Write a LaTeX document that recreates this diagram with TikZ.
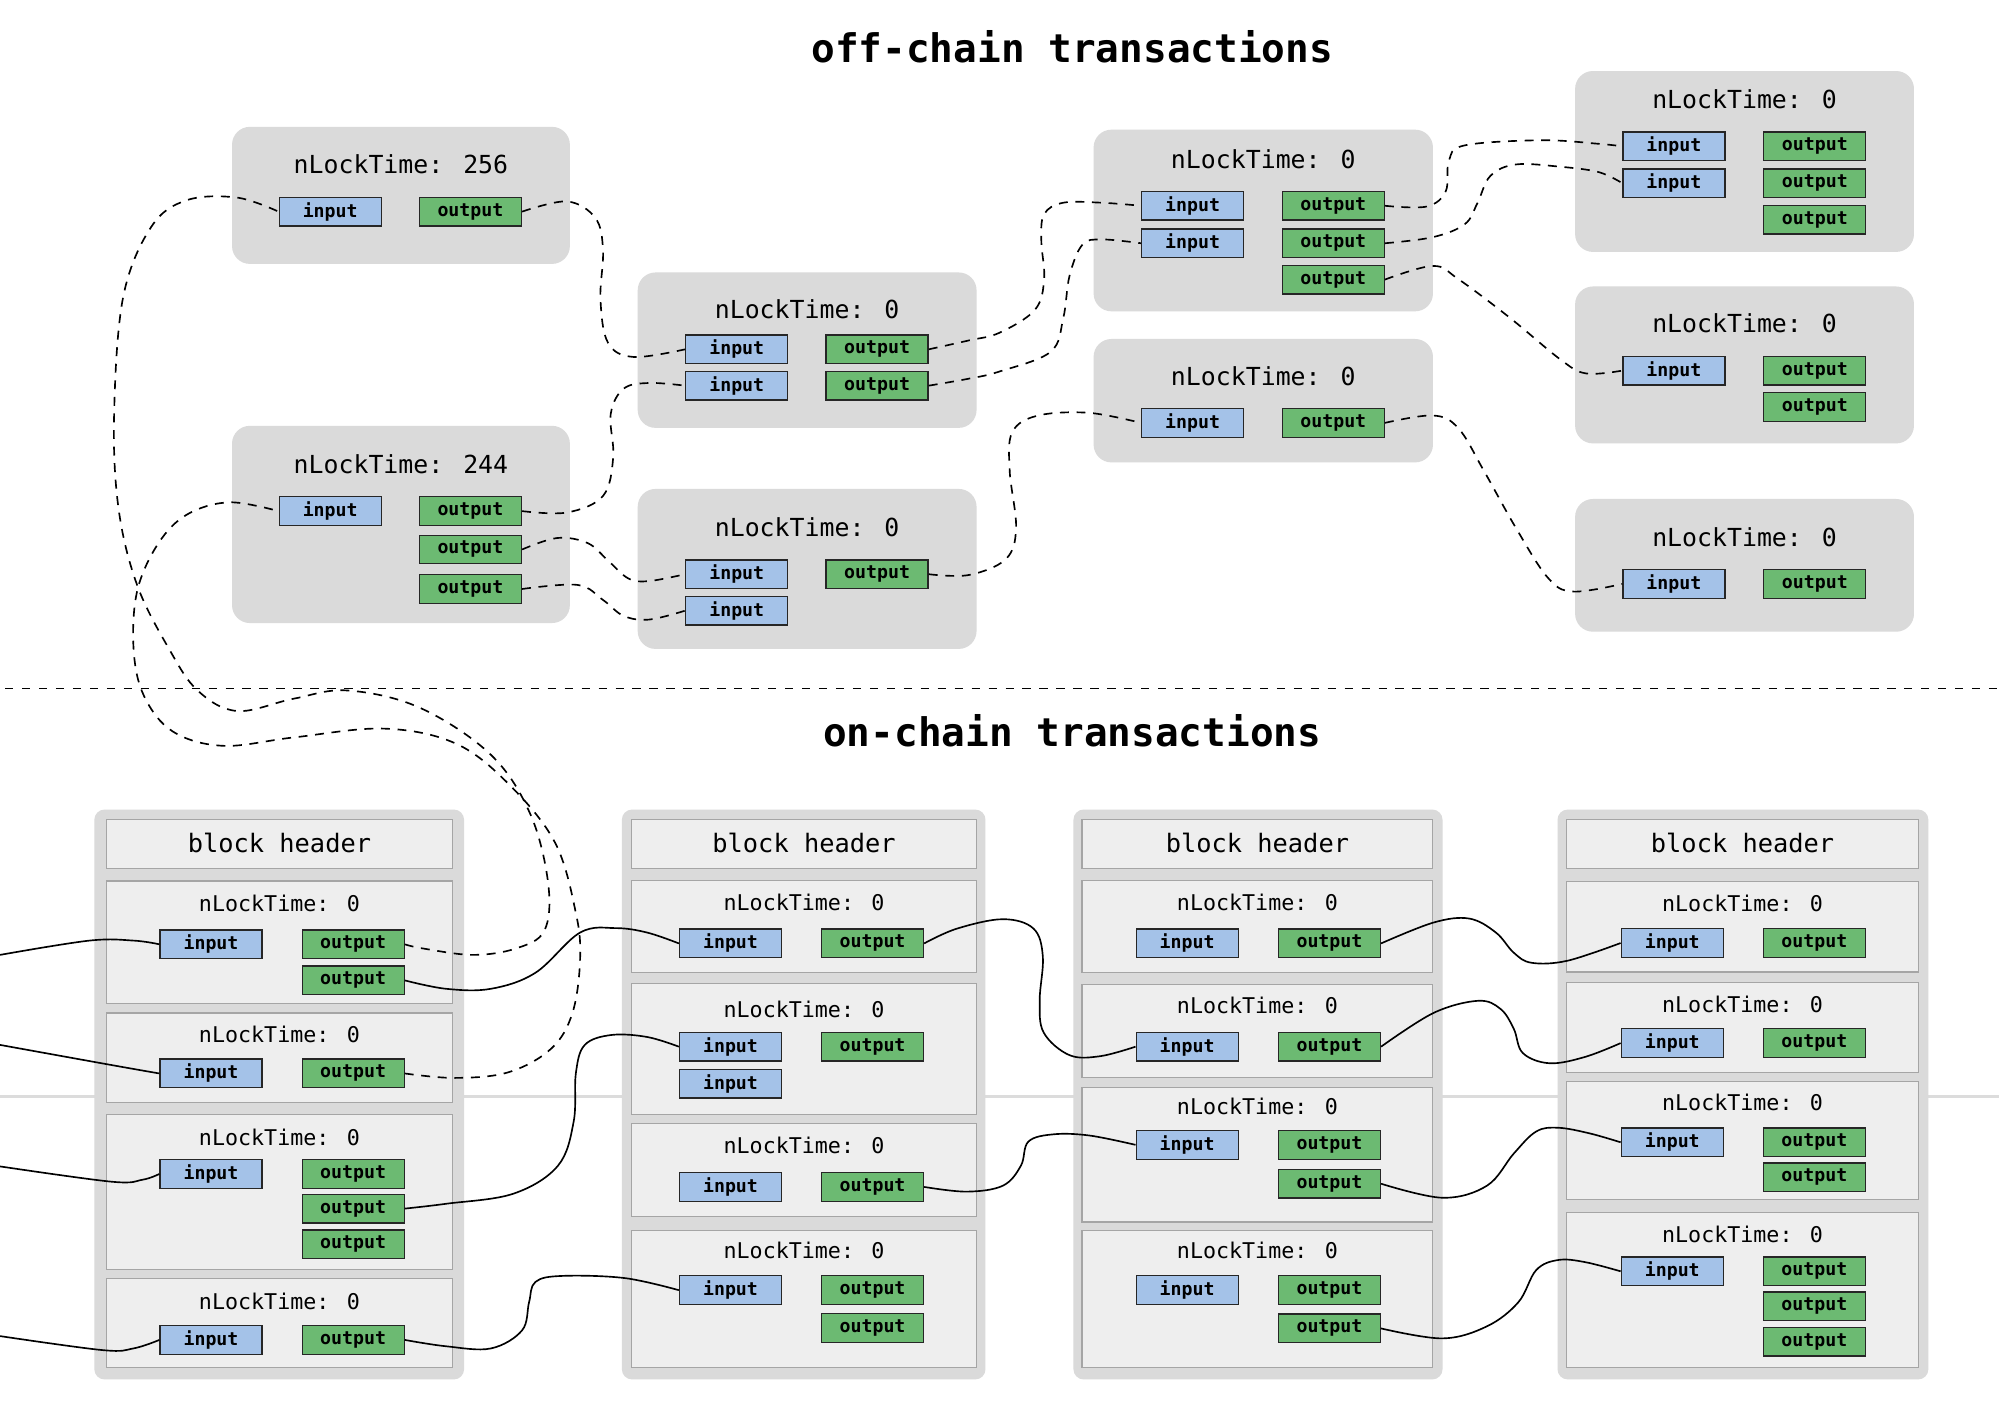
\documentclass[tikz,border=0pt]{standalone}
\usepackage{fontspec}
\newfontfamily\dvm{DejaVu Sans Mono}
\definecolor{inblue}{RGB}{164,194,232}
\definecolor{outgreen}{RGB}{108,186,114}
\definecolor{txgray}{RGB}{218,218,218}
\definecolor{rowfill}{RGB}{238,238,238}
\definecolor{rowline}{RGB}{165,165,165}
\definecolor{sepgray}{RGB}{220,220,220}
\tikzset{
  io/.style={draw=black!85, line width=1pt, minimum width=80pt, minimum height=22.5pt, inner sep=0pt, font=\dvm\bfseries\fontsize{14.3}{14.3}\selectfont},
  inp/.style={io, fill=inblue},
  outp/.style={io, fill=outgreen},
  offtx/.style={fill=txgray, rounded corners=14pt, inner sep=0pt},
  blockbg/.style={fill=txgray, rounded corners=8pt, inner sep=0pt},
  rowbox/.style={fill=rowfill, draw=rowline, line width=1pt, inner sep=0pt},
  offtitle/.style={inner sep=0pt, font=\dvm\fontsize{19.5}{20}\selectfont},
  rowtitle/.style={inner sep=0pt, font=\dvm\fontsize{17}{18}\selectfont},
  headtitle/.style={inner sep=0pt, font=\dvm\fontsize{19.9}{20}\selectfont},
  sectitle/.style={inner sep=0pt, font=\dvm\bfseries\fontsize{30.9}{31}\selectfont},
  offlink/.style={draw=black, line width=1.3pt, dash pattern=on 7pt off 6pt},
  onlink/.style={draw=black, line width=1.3pt},
}
\newcommand\mkin[3]{\node[inp] (#1) at (#2,#3) {input};}
\newcommand\mkout[3]{\node[outp] (#1) at (#2,#3) {output};}
\begin{document}
\begin{tikzpicture}[x=1pt,y=-1pt]
\useasboundingbox (0,0) rectangle (1568,1106.8);
\fill[white] (0,0) rectangle (1568,1106.8);
% background lines
\coordinate (gl) at (0,860);
\coordinate (gr) at (1568,860);
\draw[sepgray, line width=2pt] (gl) -- (gr);
\coordinate (sl) at (4,540);
\coordinate (sr) at (1568,540);
\draw[black, line width=1.3pt, dash pattern=on 6.5pt off 6.8pt] (sl) -- (sr);
\node[sectitle] (offt) at (841,36.7) {off-chain transactions};
\node[sectitle] (ont) at (841,573.5) {on-chain transactions};

% ---------- off-chain transactions ----------
\node[offtx, minimum width=265pt, minimum height=107.5pt] (A) at (314.5,153.25) {};
\node[offtitle] (At) at (314.5,128.7) {nLockTime: 256};
\mkin{Ain}{259}{166}\mkout{Aout}{369}{166}

\node[offtx, minimum width=265pt, minimum height=154.7pt] (B) at (314.5,411.35) {};
\node[offtitle] (Bt) at (314.5,364) {nLockTime: 244};
\mkin{Bin}{259}{400.9}\mkout{Bo1}{369}{400.9}\mkout{Bo2}{369}{431}\mkout{Bo3}{369}{462}

\node[offtx, minimum width=265.8pt, minimum height=121.9pt] (C) at (633.1,274.65) {};
\node[offtitle] (Ct) at (633.1,242.8) {nLockTime: 0};
\mkin{Ci1}{577.9}{274}\mkin{Ci2}{577.9}{302.5}\mkout{Co1}{688}{274}\mkout{Co2}{688}{302.5}

\node[offtx, minimum width=265.8pt, minimum height=125.5pt] (D) at (633.1,446.25) {};
\node[offtitle] (Dt) at (633.1,413.7) {nLockTime: 0};
\mkin{Di1}{577.9}{450.4}\mkin{Di2}{577.9}{479}\mkout{Do1}{688}{450.4}

\node[offtx, minimum width=266.2pt, minimum height=142.5pt] (E) at (990.9,172.95) {};
\node[offtitle] (Et) at (990.9,124.7) {nLockTime: 0};
\mkin{Ei1}{935.5}{161.4}\mkin{Ei2}{935.5}{190.8}
\mkout{Eo1}{1045.8}{161.4}\mkout{Eo2}{1045.8}{190.8}\mkout{Eo3}{1045.8}{219.3}

\node[offtx, minimum width=266.2pt, minimum height=96.8pt] (F) at (990.9,314.3) {};
\node[offtitle] (Ft) at (990.9,295.2) {nLockTime: 0};
\mkin{Fi}{935.5}{331.7}\mkout{Fo}{1045.8}{331.7}

\node[offtx, minimum width=265.8pt, minimum height=141.9pt] (G) at (1368.4,126.65) {};
\node[offtitle] (Gt) at (1368.4,78.2) {nLockTime: 0};
\mkin{Gi1}{1313}{114.8}\mkin{Gi2}{1313}{143.7}
\mkout{Go1}{1423.5}{114.8}\mkout{Go2}{1423.5}{143.7}\mkout{Go3}{1423.5}{172.2}

\node[offtx, minimum width=265.8pt, minimum height=123.1pt] (H) at (1368.4,286.25) {};
\node[offtitle] (Ht) at (1368.4,253.8) {nLockTime: 0};
\mkin{Hi}{1313}{290.7}\mkout{Ho1}{1423.5}{290.7}\mkout{Ho2}{1423.5}{319.2}

\node[offtx, minimum width=265.8pt, minimum height=104.1pt] (I) at (1368.4,443.45) {};
\node[offtitle] (It) at (1368.4,421) {nLockTime: 0};
\mkin{Ii}{1313}{458}\mkout{Io}{1423.5}{458}

% ---------- on-chain blocks ----------
% block 1
\node[blockbg, minimum width=290pt, minimum height=447pt] (b1) at (219,858.5) {};
\node[rowbox, minimum width=271.6pt, minimum height=38pt] (b1h) at (219.2,662) {};
\node[headtitle] (b1ht) at (219.2,661.4) {block header};
\node[rowbox, minimum width=271.6pt, minimum height=96pt] (b1r1) at (219.2,739) {};
\node[rowtitle] (b1r1t) at (219.2,708.8) {nLockTime: 0};
\mkin{b1r1i}{165.5}{740.7}\mkout{b1r1o1}{277}{740.7}\mkout{b1r1o2}{277}{769}
\node[rowbox, minimum width=271.6pt, minimum height=70.5pt] (b1r2) at (219.2,829.75) {};
\node[rowtitle] (b1r2t) at (219.2,811.2) {nLockTime: 0};
\mkin{b1r2i}{165.5}{842}\mkout{b1r2o}{277}{842}
\node[rowbox, minimum width=271.6pt, minimum height=122pt] (b1r3) at (219.2,935) {};
\node[rowtitle] (b1r3t) at (219.2,891.9) {nLockTime: 0};
\mkin{b1r3i}{165.5}{920.8}\mkout{b1r3o1}{277}{920.8}\mkout{b1r3o2}{277}{948}\mkout{b1r3o3}{277}{976}
\node[rowbox, minimum width=271.6pt, minimum height=69.5pt] (b1r4) at (219.2,1037.75) {};
\node[rowtitle] (b1r4t) at (219.2,1020.5) {nLockTime: 0};
\mkin{b1r4i}{165.5}{1051}\mkout{b1r4o}{277}{1051}

% block 2
\node[blockbg, minimum width=285.2pt, minimum height=447pt] (b2) at (630.4,858.5) {};
\node[rowbox, minimum width=270.6pt, minimum height=38pt] (b2h) at (630.7,662) {};
\node[headtitle] (b2ht) at (630.7,661) {block header};
\node[rowbox, minimum width=270.6pt, minimum height=72.5pt] (b2r1) at (630.7,726.75) {};
\node[rowtitle] (b2r1t) at (630.7,708) {nLockTime: 0};
\mkin{b2r1i}{573}{740}\mkout{b2r1o}{684.4}{740}
\node[rowbox, minimum width=270.6pt, minimum height=102.5pt] (b2r2) at (630.7,822.75) {};
\node[rowtitle] (b2r2t) at (630.7,791.5) {nLockTime: 0};
\mkin{b2r2i1}{573}{821}\mkin{b2r2i2}{573}{850}\mkout{b2r2o}{684.4}{821}
\node[rowbox, minimum width=270.6pt, minimum height=73pt] (b2r3) at (630.7,917.5) {};
\node[rowtitle] (b2r3t) at (630.7,898.5) {nLockTime: 0};
\mkin{b2r3i}{573}{931}\mkout{b2r3o}{684.4}{931}
\node[rowbox, minimum width=270.6pt, minimum height=107.2pt] (b2r4) at (630.7,1018.9) {};
\node[rowtitle] (b2r4t) at (630.7,981) {nLockTime: 0};
\mkin{b2r4i}{573}{1012}\mkout{b2r4o1}{684.4}{1012}\mkout{b2r4o2}{684.4}{1041.5}

% block 3
\node[blockbg, minimum width=289.5pt, minimum height=447pt] (b3) at (986.75,858.5) {};
\node[rowbox, minimum width=275pt, minimum height=38pt] (b3h) at (986.3,662) {};
\node[headtitle] (b3ht) at (986.3,661) {block header};
\node[rowbox, minimum width=275pt, minimum height=72.5pt] (b3r1) at (986.3,726.75) {};
\node[rowtitle] (b3r1t) at (986.3,708) {nLockTime: 0};
\mkin{b3r1i}{931.2}{740}\mkout{b3r1o}{1042.8}{740}
\node[rowbox, minimum width=275pt, minimum height=72.5pt] (b3r2) at (986.3,808.75) {};
\node[rowtitle] (b3r2t) at (986.3,789) {nLockTime: 0};
\mkin{b3r2i}{931.2}{821}\mkout{b3r2o}{1042.8}{821}
\node[rowbox, minimum width=275pt, minimum height=105.5pt] (b3r3) at (986.3,905.75) {};
\node[rowtitle] (b3r3t) at (986.3,867.6) {nLockTime: 0};
\mkin{b3r3i}{931.2}{898}\mkout{b3r3o1}{1042.8}{898}\mkout{b3r3o2}{1042.8}{928.5}
\node[rowbox, minimum width=275pt, minimum height=107.2pt] (b3r4) at (986.3,1018.9) {};
\node[rowtitle] (b3r4t) at (986.3,981) {nLockTime: 0};
\mkin{b3r4i}{931.2}{1012}\mkout{b3r4o1}{1042.8}{1012}\mkout{b3r4o2}{1042.8}{1042}

% block 4
\node[blockbg, minimum width=290.9pt, minimum height=447pt] (b4) at (1367.15,858.5) {};
\node[rowbox, minimum width=276.3pt, minimum height=38pt] (b4h) at (1366.85,662) {};
\node[headtitle] (b4ht) at (1366.85,661) {block header};
\node[rowbox, minimum width=276.3pt, minimum height=70.9pt] (b4r1) at (1366.85,726.95) {};
\node[rowtitle] (b4r1t) at (1366.85,708.8) {nLockTime: 0};
\mkin{b4r1i}{1311.7}{739.7}\mkout{b4r1o}{1423.2}{739.7}
\node[rowbox, minimum width=276.3pt, minimum height=70.6pt] (b4r2) at (1366.85,805.9) {};
\node[rowtitle] (b4r2t) at (1366.85,787.6) {nLockTime: 0};
\mkin{b4r2i}{1311.7}{818.2}\mkout{b4r2o}{1423.2}{818.2}
\node[rowbox, minimum width=276.3pt, minimum height=92.3pt] (b4r3) at (1366.85,894.55) {};
\node[rowtitle] (b4r3t) at (1366.85,864.8) {nLockTime: 0};
\mkin{b4r3i}{1311.7}{896}\mkout{b4r3o1}{1423.2}{896}\mkout{b4r3o2}{1423.2}{923.4}
\node[rowbox, minimum width=276.3pt, minimum height=121.7pt] (b4r4) at (1366.85,1011.65) {};
\node[rowtitle] (b4r4t) at (1366.85,968.5) {nLockTime: 0};
\mkin{b4r4i}{1311.7}{997.2}\mkout{b4r4o1}{1423.2}{997.2}\mkout{b4r4o2}{1423.2}{1024.6}\mkout{b4r4o3}{1423.2}{1052.3}

% ---------- off-chain links (dashed) ----------
\draw[offlink] plot[smooth, tension=0.6] coordinates {(b1r1o1.east) (332,744) (371,749) (404.5,744) (427,730) (430,693) (416,638.6) (385,592) (329,555) (272.6,541.6) (230.5,548) (186,557.7) (155,541.6) (132.6,509) (107.6,459) (93,399) (89.5,325.6) (96.6,233) (118.6,178) (146.6,157) (186,155) (Ain.west)};
\draw[offlink] plot[smooth, tension=0.6] coordinates {(b1r2o.east) (357,845.5) (399,841) (432.5,822.4) (449,794.6) (455,753) (451.8,716.6) (435.4,661) (399,615) (357,583) (301,571.5) (230.6,578.4) (175,585) (135.6,573.8) (113,546) (104.8,509.4) (107.6,463.6) (124,426.5) (146.8,403.5) (180,394) (Bin.west)};
\draw[offlink] plot[smooth, tension=0.6] coordinates {(Aout.east) (444.7,158) (467,171) (473,196) (471,235) (477,269) (497,280) (Ci1.west)};
\draw[offlink] plot[smooth, tension=0.6] coordinates {(Bo1.east) (444.7,402) (473,389) (481,358.6) (479,325) (489,305) (509,300.4) (Ci2.west)};
\draw[offlink] plot[smooth, tension=0.6] coordinates {(Bo2.east) (437,422) (461,426) (477,439.8) (493,453.8) (509,455.8) (Di1.west)};
\draw[offlink] plot[smooth, tension=0.6] coordinates {(Bo3.east) (453,458.8) (473,470.6) (489,483) (509,486) (Di2.west)};
\draw[offlink] plot[smooth, tension=0.6] coordinates {(Co1.east) (760,267) (784,261) (811.8,243) (819,219) (816.8,189) (819,168) (834,159) (864,159) (Ei1.west)};
\draw[offlink] plot[smooth, tension=0.6] coordinates {(Co2.east) (760,297) (784,291.4) (824,276) (834,249.6) (839,216) (849,192) (864,187.8) (Ei2.west)};
\draw[offlink] plot[smooth, tension=0.6] coordinates {(Do1.east) (760,451) (789,438.5) (797,414) (792,369.4) (794,339) (814,326) (854,323.8) (Fi.west)};
\draw[offlink] plot[smooth, tension=0.6] coordinates {(Eo1.east) (1119,162) (1134,150) (1136.5,126) (1149,114) (1209,110) (1254,112.8) (Gi1.west)};
\draw[offlink] plot[smooth, tension=0.6] coordinates {(Eo2.east) (1124,186) (1149,175.8) (1159,159) (1169,138) (1189,129) (1224,130.8) (1254,135) (Gi2.west)};
\draw[offlink] plot[smooth, tension=0.6] coordinates {(Eo3.east) (1124,208.6) (1144,219) (1184,249) (1224,282) (1244,292.9) (Hi.west)};
\draw[offlink] plot[smooth, tension=0.6] coordinates {(Fo.east) (1124,325.9) (1144,336) (1164,369.4) (1189,414) (1214,453) (1233.7,464) (Ii.west)};

% ---------- on-chain links (solid) ----------
\coordinate (L1) at (0,749);
\coordinate (L2) at (0,819.6);
\coordinate (L3) at (0,914.9);
\coordinate (L4) at (0,1048);
\draw[onlink] plot[smooth, tension=0.6] coordinates {(L1) (70,737.8) (105,737.8) (b1r1i.west)};
\draw[onlink] plot[smooth, tension=0.6] coordinates {(L2) (87.5,835.4) (b1r2i.west)};
\draw[onlink] plot[smooth, tension=0.6] coordinates {(L3) (87.5,926.9) (112,925.3) (b1r3i.west)};
\draw[onlink] plot[smooth, tension=0.6] coordinates {(L4) (80.5,1059) (105,1057.6) (b1r4i.west)};
\draw[onlink] plot[smooth, tension=0.6] coordinates {(b1r1o2.east) (350,775.6) (385,775.6) (420,763) (455,731.5) (483,728) (507.7,731.5) (b2r1i.west)};
\draw[onlink] plot[smooth, tension=0.6] coordinates {(b1r3o2.east) (350,944.2) (402.7,936.3) (437.7,914.3) (450,879.6) (451.7,841.8) (458.7,819.6) (479.7,811.8) (507.7,813.4) (b2r2i1.west)};
\draw[onlink] plot[smooth, tension=0.6] coordinates {(b1r4o.east) (350,1056) (385,1057.7) (409.5,1043.5) (415,1021.4) (420,1005.5) (441,1000.8) (490,1002.5) (b2r4i.west)};
\draw[onlink] plot[smooth, tension=0.6] coordinates {(b2r1o.east) (750.6,728.4) (786.7,721) (810.7,728.4) (818,750.4) (815.5,785) (818.7,810) (838.8,827.6) (862.7,828.5) (b3r2i.west)};
\draw[onlink] plot[smooth, tension=0.6] coordinates {(b2r3o.east) (758.4,934.7) (786.7,930) (800.8,914.3) (806.7,895.4) (826.7,889.7) (854.7,890.7) (b3r3i.west)};
\draw[onlink] plot[smooth, tension=0.6] coordinates {(b3r1o.east) (1124.5,723.6) (1152.5,720.5) (1173.4,731.5) (1187.4,747.3) (1201.4,755.2) (1229.4,753.6) (b4r1i.west)};
\draw[onlink] plot[smooth, tension=0.6] coordinates {(b3r2o.east) (1124.5,794.5) (1159.4,785) (1177,791.4) (1187.4,807) (1194.5,826) (1215.5,834) (1243.4,829) (b4r2i.west)};
\draw[onlink] plot[smooth, tension=0.6] coordinates {(b3r3o2.east) (1131.5,939.5) (1166.4,930) (1187.4,904.8) (1205,887.5) (1222.4,884.6) (1246.9,889) (b4r3i.west)};
\draw[onlink] plot[smooth, tension=0.6] coordinates {(b3r4o2.east) (1131.5,1049.8) (1166.4,1040.3) (1191,1021.4) (1205,996.2) (1222.4,988.3) (1243.4,990) (b4r4i.west)};
\end{tikzpicture}
\end{document}
